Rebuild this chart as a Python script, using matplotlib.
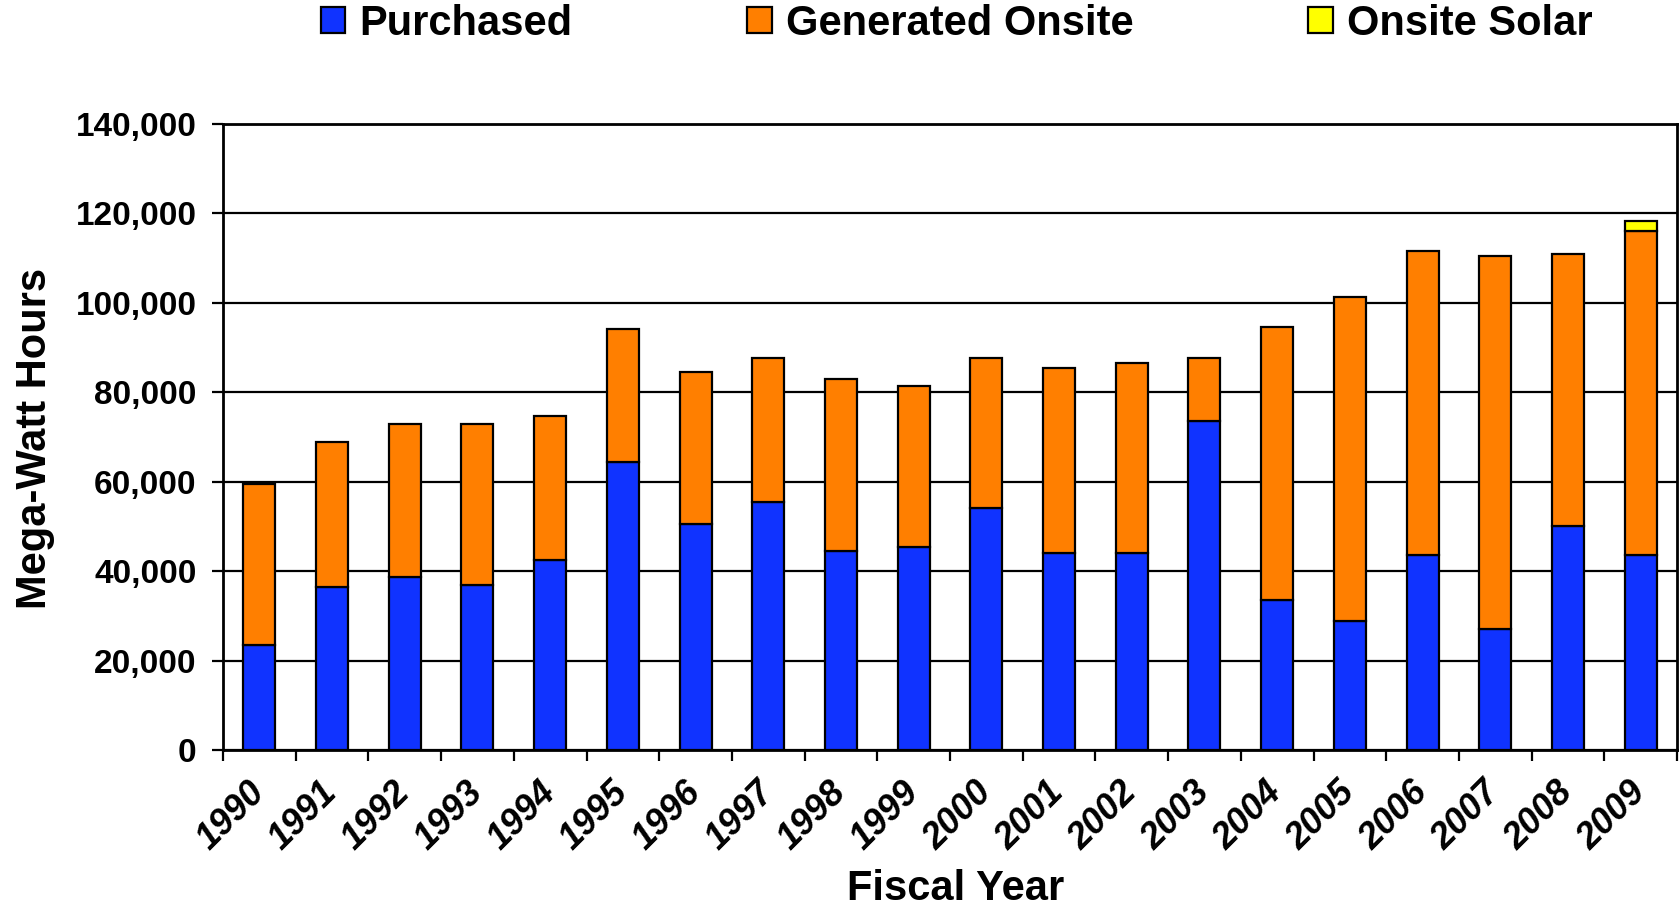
import matplotlib
matplotlib.use("Agg")
import matplotlib.pyplot as plt
from matplotlib.ticker import FuncFormatter, FixedLocator
import numpy as np

years = ["1990", "1991", "1992", "1993", "1994", "1995", "1996", "1997", "1998", "1999",
         "2000", "2001", "2002", "2003", "2004", "2005", "2006", "2007", "2008", "2009"]
purchased = [23500, 36400, 38800, 36900, 42400, 64300, 50600, 55400, 44600, 45300,
             54200, 44100, 44100, 73600, 33600, 28800, 43600, 27100, 50100, 43600]
totals_onsite = [59500, 68800, 72900, 72900, 74800, 94200, 84600, 87700, 83000, 81300,
                 87700, 85400, 86600, 87700, 94700, 101200, 111700, 110500, 111000, 116000]
generated = [t - p for t, p in zip(totals_onsite, purchased)]
solar = [0] * 19 + [2200]
yticks = [0, 20000, 40000, 60000, 80000, 100000, 120000, 140000]

C_BLUE = "#1033FF"
C_ORANGE = "#FF7F00"
C_YELLOW = "#FFFF00"

plt.rcParams['font.family'] = ['Liberation Sans', 'DejaVu Sans']

fig = plt.figure(figsize=(16.8, 9.13), dpi=100)
ax = fig.add_axes([223/1680, 1 - 750/913, 1454/1680, 626/913])

x = np.arange(len(years))
w = 0.44
ax.bar(x, purchased, w, color=C_BLUE, edgecolor="black", linewidth=1.6, label="Purchased", zorder=3)
ax.bar(x, generated, w, bottom=purchased, color=C_ORANGE, edgecolor="black", linewidth=1.6,
       label="Generated Onsite", zorder=3)
bottom2 = [p + g for p, g in zip(purchased, generated)]
sol_idx = [i for i, s in enumerate(solar) if s > 0]
ax.bar(x[sol_idx], [solar[i] for i in sol_idx], w, bottom=[bottom2[i] for i in sol_idx],
       color=C_YELLOW, edgecolor="black", linewidth=1.6, label="Onsite Solar", zorder=3)

ax.set_xlim(-0.5, len(years) - 0.5)
ax.set_ylim(0, 140000)
ax.set_yticks(yticks)
ax.yaxis.set_major_formatter(FuncFormatter(lambda v, p: f"{int(v):,}"))
ax.grid(axis="y", color="black", linewidth=1.6, zorder=0)
ax.set_axisbelow(True)

# x ticks at category boundaries, labels at centers
ax.xaxis.set_major_locator(FixedLocator(np.arange(-0.5, len(years), 1.0)))
ax.xaxis.set_major_formatter(FuncFormatter(lambda v, p: ""))
ax.xaxis.set_minor_locator(FixedLocator(x))
ax.set_xticklabels(years, minor=True)
ax.tick_params(axis="x", which="major", direction="out", length=8, width=1.6)
ax.tick_params(axis="x", which="minor", length=0, pad=27)
for lab in ax.get_xticklabels(minor=True):
    lab.set_rotation(45)
    lab.set_ha("right")
    lab.set_va("center")
    lab.set_rotation_mode("anchor")
    lab.set_fontsize(26)
    lab.set_fontweight("bold")
    lab.set_fontstyle("italic")

ax.tick_params(axis="y", direction="out", length=8, width=1.6, pad=11, labelsize=24)
for lab in ax.get_yticklabels():
    lab.set_fontweight("bold")

for s in ax.spines.values():
    s.set_linewidth(2.0)
    s.set_color("black")

ax.set_xlabel("Fiscal Year", fontsize=30, fontweight="bold", va="center")
ax.xaxis.set_label_coords(0.504, -0.222)
ax.set_ylabel("Mega-Watt Hours", fontsize=30, fontweight="bold", va="center")
ax.yaxis.set_label_coords(-0.1295, 0.497)

fig.legend(loc="center left", bbox_to_anchor=(321/1680, 1 - 24/913), ncol=3, frameon=False,
           prop={"size": 30, "weight": "bold"}, handlelength=0.58, handleheight=0.58,
           handletextpad=0.34, columnspacing=4.2, borderpad=0, borderaxespad=0)

fig.savefig("out.png", dpi=100)
